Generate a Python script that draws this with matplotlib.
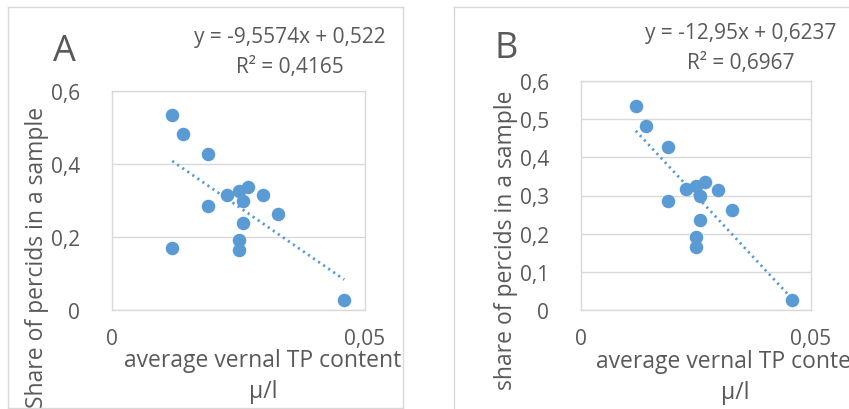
import matplotlib.pyplot as plt
from matplotlib.ticker import FuncFormatter

plt.rcParams['font.family'] = ['Open Sans', 'DejaVu Sans']

# Datos (contenido medio de TP vs proporcion de percidos)
tp_b = [0.0119, 0.0141, 0.0190, 0.0228, 0.0251, 0.0269, 0.0298,
        0.0258, 0.0190, 0.0329, 0.0258, 0.0251, 0.0251, 0.0459]
share_b = [0.535, 0.483, 0.428, 0.316, 0.326, 0.336, 0.314,
           0.298, 0.285, 0.263, 0.237, 0.191, 0.164, 0.027]

# Panel A incluye un punto mas (el atipico)
tp_a = tp_b + [0.0119]
share_a = share_b + [0.171]

# Lineas de tendencia (de las ecuaciones del grafico)
slope_a, icpt_a = -9.5574, 0.522
slope_b, icpt_b = -12.95, 0.6237
eq_a = ["y = -9,5574x + 0,522", "R² = 0,4165"]
eq_b = ["y = -12,95x + 0,6237", "R² = 0,6967"]

yticks_a = [0, 0.2, 0.4, 0.6]
yticks_b = [0, 0.1, 0.2, 0.3, 0.4, 0.5, 0.6]
xticks = [0, 0.05]

W, H = 849, 410
BLUE = "#5b9bd5"
TXT = "#595959"
GRID = "#d9d9d9"

fig = plt.figure(figsize=(W / 100, H / 100), dpi=100)


def rect(x0, y0, x1, y1):
    return [x0 / W, 1 - y1 / H, (x1 - x0) / W, (y1 - y0) / H]


def coma(v, pos):
    if v == 0:
        return "0"
    s = f"{v:.2f}".rstrip("0")
    return s.replace(".", ",")


def panel(box):
    p = fig.add_axes(rect(*box))
    p.set_xticks([])
    p.set_yticks([])
    for s in p.spines.values():
        s.set_color(GRID)
        s.set_linewidth(1)
    p.set_zorder(0)
    return p


def ptext(p, x, y, s, **kw):
    p.text(x / W, 1 - y / H, s, transform=fig.transFigure, clip_on=True,
           color=TXT, **kw)


def grafico(box, tp, share, slope, icpt, yticks, letter, eq, ylabel,
            pos_letter, pos_eq, pos_xlab, pos_ylab, panel_box):
    p = panel(panel_box)

    ax = fig.add_axes(rect(*box))
    ax.set_zorder(1)
    ax.set_xlim(0, 0.05)
    ax.set_ylim(0, 0.6)
    ax.set_xticks(xticks)
    ax.set_yticks(yticks)
    ax.xaxis.set_major_formatter(FuncFormatter(coma))
    ax.yaxis.set_major_formatter(FuncFormatter(coma))
    ax.tick_params(length=0, labelsize=15, colors=TXT)
    ax.tick_params(axis="y", pad=23)
    ax.tick_params(axis="x", pad=13)
    ax.grid(axis="y", color=GRID, linewidth=1)
    ax.set_axisbelow(True)
    for s in ax.spines.values():
        s.set_color(GRID)
        s.set_linewidth(1)

    ax.scatter(tp, share, s=95, color=BLUE, zorder=3, linewidths=0)
    x0, x1 = min(tp), max(tp)
    ax.plot([x0, x1], [slope * x0 + icpt, slope * x1 + icpt], color=BLUE,
            linewidth=2, linestyle=(0, (0.8, 1.4)), zorder=2)

    ptext(p, *pos_letter, letter, fontsize=26, ha="center", va="center")
    ptext(p, pos_eq[0], pos_eq[1], eq[0], fontsize=15, ha="center",
          va="center")
    ptext(p, pos_eq[0], pos_eq[1] + 30, eq[1], fontsize=15, ha="center",
          va="center")
    ptext(p, pos_xlab[0], pos_xlab[1], "average vernal TP content",
          fontsize=16.5, ha="center", va="center")
    ptext(p, pos_xlab[0], pos_xlab[1] + 31, "μ/l", fontsize=16.5,
          ha="center", va="center")
    ptext(p, pos_ylab[0], pos_ylab[1], ylabel, fontsize=16.5, ha="center",
          va="center", rotation=90)


grafico((112, 92, 365, 311), tp_a, share_a, slope_a, icpt_a, yticks_a,
        "A", eq_a, "Share of percids in a sample",
        (64, 52), (290, 37), (263, 361), (37, 257), (8, 8, 403, 409))

grafico((581, 82, 811, 311), tp_b, share_b, slope_b, icpt_b, yticks_b,
        "B", eq_b, "share of percids in a sample",
        (506, 49), (741, 34), (735, 362), (506, 240), (454, 8, 870, 430))

fig.savefig("out.png", dpi=100)
